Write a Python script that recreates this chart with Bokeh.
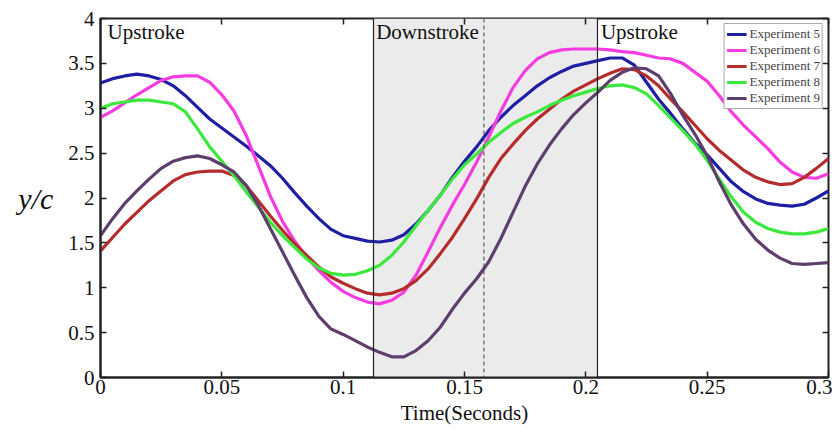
from bokeh.plotting import figure
from bokeh.models import (Legend, LegendItem, BoxAnnotation, Span, Label, LinearAxis,
                          FixedTicker, CustomJSTickFormatter, Range1d)
from bokeh.embed import file_html
from bokeh.resources import INLINE

# ---- data (every 0.005 s) ---------------------------------------------
t = [0.000, 0.005, 0.010, 0.015, 0.020, 0.025, 0.030, 0.035, 0.040, 0.045,
     0.050, 0.055, 0.060, 0.065, 0.070, 0.075, 0.080, 0.085, 0.090, 0.095,
     0.100, 0.105, 0.110, 0.115, 0.120, 0.125, 0.130, 0.135, 0.140, 0.145,
     0.150, 0.155, 0.160, 0.165, 0.170, 0.175, 0.180, 0.185, 0.190, 0.195,
     0.200, 0.205, 0.210, 0.215, 0.220, 0.225, 0.230, 0.235, 0.240, 0.245,
     0.250, 0.255, 0.260, 0.265, 0.270, 0.275, 0.280, 0.285, 0.290, 0.295,
     0.300]

exp5 = [3.28, 3.33, 3.36, 3.38, 3.36, 3.32, 3.25, 3.14, 3.01, 2.88,
        2.78, 2.68, 2.58, 2.47, 2.36, 2.22, 2.06, 1.91, 1.77, 1.65,
        1.58, 1.55, 1.52, 1.51, 1.53, 1.59, 1.71, 1.86, 2.03, 2.23,
        2.41, 2.57, 2.75, 2.90, 3.03, 3.14, 3.25, 3.34, 3.41, 3.47,
        3.50, 3.53, 3.56, 3.56, 3.48, 3.29, 3.10, 2.94, 2.77, 2.61,
        2.48, 2.33, 2.18, 2.07, 1.99, 1.94, 1.92, 1.91, 1.93, 2.00,
        2.08]
exp6 = [2.90, 2.97, 3.06, 3.15, 3.23, 3.31, 3.35, 3.36, 3.36, 3.29,
        3.15, 2.97, 2.70, 2.36, 2.02, 1.74, 1.52, 1.34, 1.19, 1.06,
        0.96, 0.89, 0.84, 0.82, 0.86, 0.95, 1.14, 1.40, 1.67, 1.92,
        2.15, 2.40, 2.68, 2.97, 3.23, 3.42, 3.55, 3.62, 3.65, 3.66,
        3.66, 3.66, 3.65, 3.63, 3.62, 3.59, 3.56, 3.55, 3.50, 3.40,
        3.30, 3.14, 2.96, 2.81, 2.68, 2.55, 2.40, 2.29, 2.23, 2.22,
        2.27]
exp7 = [1.41, 1.56, 1.71, 1.84, 1.97, 2.08, 2.19, 2.26, 2.29, 2.30,
        2.30, 2.25, 2.14, 1.97, 1.80, 1.64, 1.49, 1.36, 1.23, 1.12,
        1.05, 0.99, 0.94, 0.92, 0.94, 0.99, 1.08, 1.21, 1.38, 1.56,
        1.77, 1.99, 2.23, 2.44, 2.60, 2.75, 2.88, 2.99, 3.10, 3.19,
        3.26, 3.33, 3.39, 3.44, 3.43, 3.36, 3.25, 3.10, 2.96, 2.81,
        2.66, 2.53, 2.42, 2.31, 2.23, 2.18, 2.15, 2.16, 2.23, 2.33,
        2.44]
exp8 = [3.00, 3.05, 3.07, 3.09, 3.09, 3.07, 3.05, 2.96, 2.77, 2.57,
        2.41, 2.25, 2.07, 1.90, 1.73, 1.58, 1.45, 1.32, 1.22, 1.16,
        1.14, 1.15, 1.19, 1.25, 1.36, 1.51, 1.69, 1.86, 2.03, 2.21,
        2.37, 2.49, 2.62, 2.73, 2.83, 2.90, 2.96, 3.03, 3.09, 3.14,
        3.18, 3.22, 3.25, 3.26, 3.23, 3.16, 3.03, 2.89, 2.75, 2.60,
        2.42, 2.21, 2.01, 1.84, 1.73, 1.66, 1.62, 1.60, 1.60, 1.62,
        1.66]
exp9 = [1.58, 1.77, 1.94, 2.08, 2.21, 2.33, 2.41, 2.45, 2.47, 2.44,
        2.37, 2.29, 2.14, 1.92, 1.66, 1.40, 1.14, 0.89, 0.68, 0.54,
        0.48, 0.41, 0.34, 0.28, 0.23, 0.23, 0.30, 0.41, 0.56, 0.76,
        0.94, 1.10, 1.29, 1.55, 1.84, 2.13, 2.38, 2.59, 2.77, 2.93,
        3.06, 3.18, 3.31, 3.40, 3.45, 3.44, 3.36, 3.16, 2.92, 2.71,
        2.47, 2.18, 1.92, 1.71, 1.54, 1.42, 1.33, 1.27, 1.26, 1.27,
        1.28]

names = ["Experiment 5", "Experiment 6", "Experiment 7", "Experiment 8", "Experiment 9"]
series = [exp5, exp6, exp7, exp8, exp9]
colors = ["#1f1fa3", "#f43ce0", "#b42c2c", "#3ce83c", "#5e3e6c"]

downstroke_start = 0.1125
downstroke_mid = 0.158
downstroke_end = 0.2048

x_ticks = [0, 0.05, 0.1, 0.15, 0.2, 0.25, 0.3]
y_ticks = [0, 0.5, 1, 1.5, 2, 2.5, 3, 3.5, 4]

FONT = "Liberation Serif"

# ---- figure -----------------------------------------------------------
p = figure(width=832, height=427, output_backend="svg", toolbar_location=None,
           x_range=Range1d(0, 0.3), y_range=Range1d(0, 4),
           min_border_left=100, min_border_right=4, min_border_top=18,
           min_border_bottom=50)
p.background_fill_color = "white"
p.border_fill_color = "white"
p.grid.visible = False
p.outline_line_color = "#222222"
p.outline_line_width = 2

fmt = CustomJSTickFormatter(code="return String(Math.round(tick*1000)/1000);")

for ax in (p.xaxis[0], p.yaxis[0]):
    ax.axis_line_color = "#222222"
    ax.axis_line_width = 2
    ax.major_tick_in = 6
    ax.major_tick_out = 0
    ax.minor_tick_line_color = None
    ax.major_tick_line_color = "#222222"
    ax.major_tick_line_width = 1.5
    ax.major_label_text_font = FONT
    ax.major_label_text_font_size = "21px"
    ax.major_label_text_color = "#111111"
    ax.formatter = fmt

p.xaxis.ticker = FixedTicker(ticks=x_ticks)
p.yaxis.ticker = FixedTicker(ticks=y_ticks)
p.xaxis.major_label_standoff = 2
p.yaxis.major_label_standoff = 6
p.xaxis.axis_label = "Time(Seconds)"
p.xaxis.axis_label_text_font = FONT
p.xaxis.axis_label_text_font_style = "normal"
p.xaxis.axis_label_text_font_size = "21px"
p.xaxis.axis_label_text_color = "#111111"
p.xaxis.axis_label_standoff = 4

yax = p.yaxis[0]
use_axis_label = "axis_label_orientation" in yax.properties()
if use_axis_label:
    yax.axis_label = "y/c"
    yax.axis_label_orientation = "horizontal"
    yax.axis_label_text_font = FONT
    yax.axis_label_text_font_style = "italic"
    yax.axis_label_text_font_size = "30px"
    yax.axis_label_text_color = "#111111"
    yax.axis_label_standoff = 12

# mirrored tick axes on top and right (ticks only)
top_ax = LinearAxis(ticker=FixedTicker(ticks=x_ticks), axis_line_color=None,
                    major_tick_in=6, major_tick_out=0, minor_tick_line_color=None,
                    major_tick_line_color="#222222", major_tick_line_width=1.5,
                    major_label_text_color=None, major_label_standoff=0)
right_ax = LinearAxis(ticker=FixedTicker(ticks=y_ticks), axis_line_color=None,
                      major_tick_in=6, major_tick_out=0, minor_tick_line_color=None,
                      major_tick_line_color="#222222", major_tick_line_width=1.5,
                      major_label_text_color=None, major_label_standoff=0)
p.add_layout(top_ax, "above")
p.add_layout(right_ax, "right")

# downstroke shading
p.add_layout(BoxAnnotation(left=downstroke_start, right=downstroke_end,
                           fill_color="#ebebeb", fill_alpha=1.0, line_color=None,
                           level="underlay"))
p.add_layout(Span(location=downstroke_start, dimension="height",
                  line_color="#222222", line_width=1.2))
p.add_layout(Span(location=downstroke_end, dimension="height",
                  line_color="#222222", line_width=1.2))
p.add_layout(Span(location=downstroke_mid, dimension="height",
                  line_color="#444444", line_width=1, line_dash="4 3"))

# curves
items = []
for name, ys, c in zip(names, series, colors):
    r = p.line(t, ys, line_color=c, line_width=3.2, line_join="round")
    items.append(LegendItem(label=name, renderers=[r]))

legend = Legend(items=items, location="top_right", margin=5, padding=2,
                spacing=0, glyph_height=10, glyph_width=20, label_height=10,
                label_standoff=3, label_text_font=FONT,
                label_text_font_size="13px", label_text_line_height=0.7,
                border_line_color="#555555", border_line_width=1,
                background_fill_alpha=1.0)
p.add_layout(legend)

# stroke labels
for txt, x in (("Upstroke", 0.0029), ("Downstroke", 0.1136), ("Upstroke", 0.2062)):
    p.add_layout(Label(x=x, y=3.985, text=txt, text_font=FONT,
                       text_font_size="21px", text_baseline="top",
                       text_align="left", text_color="#111111"))

if not use_axis_label:
    p.add_layout(Label(x=-80, y=180, x_units="screen", y_units="screen",
                       text="y/c", text_font=FONT,
                       text_font_style="italic", text_font_size="30px",
                       text_align="center", text_baseline="middle",
                       text_color="#111111"))

open("out.html", "w").write(file_html(p, INLINE))
